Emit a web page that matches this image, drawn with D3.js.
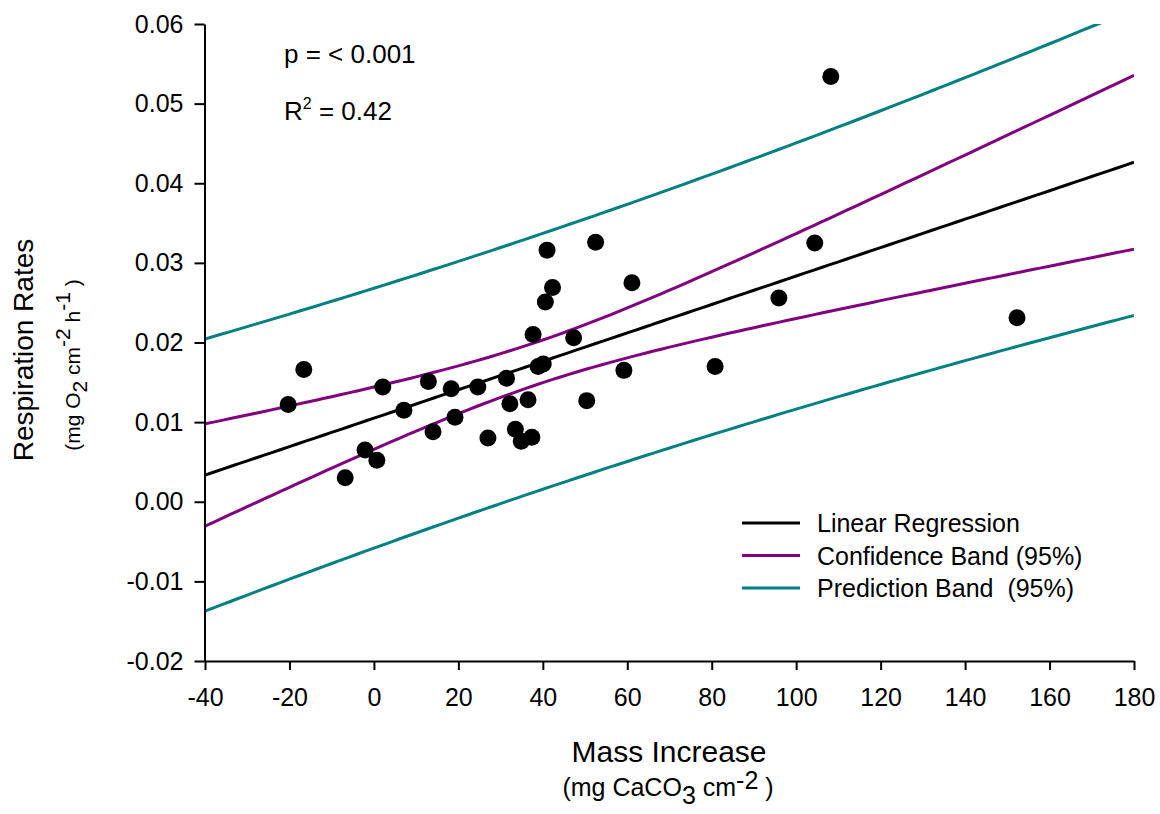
<!DOCTYPE html>
<html>
<head>
<meta charset="utf-8">
<script src="https://cdn.jsdelivr.net/npm/d3@7"></script>
<style>
    body { margin: 0; background: #fff; }
    text { font-family: "Liberation Sans", Arial, sans-serif; fill: #000; }
</style>
</head>
<body>
<div id="chart"></div>
<script>

const massIncrease = [-20.3, -16.6, -6.8, -2.1, 0.7, 2.1, 7.1, 12.9, 14.0, 18.3,
    19.2, 24.6, 27.0, 31.4, 32.2, 33.5, 34.9, 36.5, 37.4, 37.7,
    38.9, 40.1, 40.6, 41.0, 42.3, 47.3, 50.4, 52.5, 59.2, 61.1,
    80.8, 95.9, 104.4, 108.2, 152.3];
const respiration = [0.0122, 0.0166, 0.0030, 0.0065, 0.0052, 0.0144, 0.0115, 0.0151, 0.0088, 0.0142,
    0.0106, 0.0144, 0.0080, 0.0155, 0.0123, 0.0091, 0.0076, 0.0128, 0.0081, 0.0210,
    0.0170, 0.0173, 0.0251, 0.0316, 0.0269, 0.0206, 0.0127, 0.0326, 0.0165, 0.0275,
    0.0170, 0.0256, 0.0325, 0.0534, 0.0231];

const xTicks = [-40, -20, 0, 20, 40, 60, 80, 100, 120, 140, 160, 180];
const yTicks = [-0.02, -0.01, 0.00, 0.01, 0.02, 0.03, 0.04, 0.05, 0.06];

const legendLabels = ["Linear Regression", "Confidence Band (95%)", "Prediction Band  (95%)"];
const legendColors = ["#000000", "#800080", "#008080"];

// two-sided 95% t value, df = n - 2 = 33
const tCrit = 2.035;

const width = 1160, height = 814;

let svg = d3.select("#chart").append("svg")
    .attr("width", width)
    .attr("height", height);

let x = d3.scaleLinear().domain([-40, 180]).range([205, 1134]);
let y = d3.scaleLinear().domain([-0.02, 0.06]).range([661, 24]);

// ordinary least squares fit
let n = massIncrease.length;
let xm = d3.mean(massIncrease), ym = d3.mean(respiration);
let sxx = d3.sum(massIncrease, d => (d - xm) * (d - xm));
let sxy = d3.sum(massIncrease, (d, i) => (d - xm) * (respiration[i] - ym));
let slope = sxy / sxx;
let intercept = ym - slope * xm;
let sse = d3.sum(massIncrease, (d, i) => Math.pow(respiration[i] - (intercept + slope * d), 2));
let s = Math.sqrt(sse / (n - 2));

let fitX = d3.range(-40, 180.01, 2);
let fit = fitX.map(v => {
    let yhat = intercept + slope * v;
    let seFit = s * Math.sqrt(1 / n + (v - xm) * (v - xm) / sxx);
    let sePred = s * Math.sqrt(1 + 1 / n + (v - xm) * (v - xm) / sxx);
    return {x: v, yhat: yhat,
        cLo: yhat - tCrit * seFit, cHi: yhat + tCrit * seFit,
        pLo: yhat - tCrit * sePred, pHi: yhat + tCrit * sePred};
});

svg.append("clipPath").attr("id", "plotClip")
    .append("rect")
    .attr("x", x(-40)).attr("y", y(0.06))
    .attr("width", x(180) - x(-40)).attr("height", y(-0.02) - y(0.06));

let plot = svg.append("g").attr("clip-path", "url(#plotClip)");

const line = key => d3.line().x(d => x(d.x)).y(d => y(d[key]))(fit);

// prediction band
["pLo", "pHi"].forEach(k => {
    plot.append("path").attr("d", line(k))
        .attr("fill", "none").attr("stroke", legendColors[2]).attr("stroke-width", 3);
});
// confidence band
["cLo", "cHi"].forEach(k => {
    plot.append("path").attr("d", line(k))
        .attr("fill", "none").attr("stroke", legendColors[1]).attr("stroke-width", 3);
});
// regression line
plot.append("path").attr("d", line("yhat"))
    .attr("fill", "none").attr("stroke", legendColors[0]).attr("stroke-width", 3);

// points
svg.append("g").selectAll("circle")
    .data(massIncrease)
    .enter().append("circle")
    .attr("cx", d => x(d))
    .attr("cy", (d, i) => y(respiration[i]))
    .attr("r", 8.5)
    .attr("fill", "#000");

// axes
let yAxis = d3.axisLeft(y).tickValues(yTicks).tickFormat(d => d.toFixed(2))
    .tickSize(10).tickSizeOuter(0).tickPadding(11);
let xAxis = d3.axisBottom(x).tickValues(xTicks).tickFormat(d => String(d))
    .tickSize(9).tickSizeOuter(0).tickPadding(18);

let gy = svg.append("g").attr("transform", `translate(${x(-40) - 0.5},0)`).call(yAxis);
let gx = svg.append("g").attr("transform", `translate(0,${y(-0.02)})`).call(xAxis);

[gx, gy].forEach(g => {
    g.attr("font-family", null).attr("font-size", null);
    g.selectAll("path, line").attr("stroke", "#000").attr("stroke-width", 2);
    g.selectAll("text").style("font-size", "25px");
});

// axis titles
svg.append("text")
    .attr("x", 669).attr("y", 762)
    .attr("text-anchor", "middle")
    .style("font-size", "30px")
    .text("Mass Increase");

let xSub = svg.append("text")
    .attr("x", 668).attr("y", 796)
    .attr("text-anchor", "middle")
    .style("font-size", "25px")
    .attr("xml:space", "preserve");
xSub.append("tspan").text("(mg CaCO");
xSub.append("tspan").attr("dy", 8).text("3");
xSub.append("tspan").attr("dy", -8).text(" cm");
xSub.append("tspan").attr("dy", -7).text("-2");
xSub.append("tspan").attr("dy", 7).text(" )");

svg.append("text")
    .attr("transform", "translate(33,350) rotate(-90)")
    .attr("text-anchor", "middle")
    .style("font-size", "28px")
    .text("Respiration Rates");

let ySub = svg.append("text")
    .attr("transform", "translate(80,365) rotate(-90)")
    .attr("text-anchor", "middle")
    .style("font-size", "21px")
    .attr("xml:space", "preserve");
ySub.append("tspan").text("(mg O");
ySub.append("tspan").attr("dy", 7).text("2");
ySub.append("tspan").attr("dy", -7).text(" cm");
ySub.append("tspan").attr("dy", -10).text("-2");
ySub.append("tspan").attr("dy", 10).text(" h");
ySub.append("tspan").attr("dy", -10).text("-1");
ySub.append("tspan").attr("dy", 10).text(" )");

// statistics annotation
svg.append("text")
    .attr("x", 284).attr("y", 63)
    .style("font-size", "26px")
    .text("p = < 0.001");

let r2 = svg.append("text")
    .attr("x", 284).attr("y", 120)
    .style("font-size", "26px");
r2.append("tspan").text("R");
r2.append("tspan").attr("dy", -11).style("font-size", "16px").text("2");
r2.append("tspan").attr("dy", 11).text(" = 0.42");

// legend
let legend = svg.append("g").attr("transform", "translate(742,523)");
legendLabels.forEach((lab, i) => {
    let row = legend.append("g").attr("transform", `translate(0,${i * 32.5})`);
    row.append("line")
        .attr("x1", 0).attr("x2", 58)
        .attr("stroke", legendColors[i]).attr("stroke-width", 3);
    row.append("text")
        .attr("x", 75).attr("dy", "0.36em")
        .attr("xml:space", "preserve")
        .style("font-size", "25px")
        .text(lab);
});

</script>
</body>
</html>
